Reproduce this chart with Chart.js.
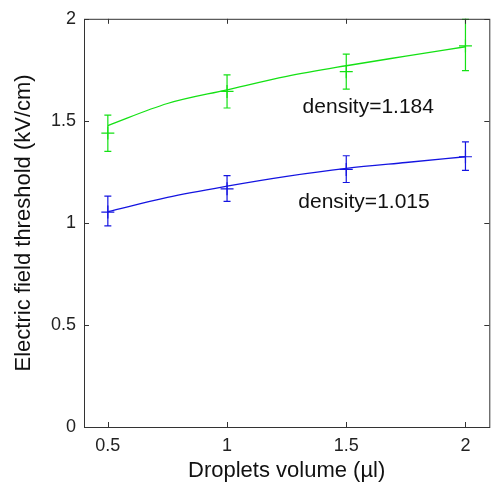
<!DOCTYPE html>
<html lang="en">
  <head>
    <meta charset="UTF-8" />
    <title>Electric field threshold</title>
    <script src="https://cdn.jsdelivr.net/npm/chart.js"></script>
    <style>
      html, body { margin: 0; padding: 0; background: #fff; overflow: hidden; }
      #wrap { width: 497px; height: 485px; }
    </style>
  </head>
  <body>
    <div id="wrap"><canvas id="myChart"></canvas></div>
    <script>
// volumes (µl)
const volumes = [0.5, 1, 1.5, 2];

// measured thresholds with error bars
const greenMean = [1.44, 1.644, 1.741, 1.867];
const greenLow  = [1.35, 1.563, 1.655, 1.746];
const greenHigh = [1.528, 1.725, 1.827, 1.997];

const blueMean = [1.053, 1.167, 1.262, 1.324];
const blueLow  = [0.985, 1.105, 1.198, 1.257];
const blueHigh = [1.131, 1.232, 1.329, 1.397];

// fitted curves
const fitX     = [0.5, 0.75, 1, 1.25, 1.5, 1.75, 2];
const greenFit = [1.477, 1.585, 1.652, 1.718, 1.77, 1.817, 1.863];
const blueFit  = [1.055, 1.125, 1.18, 1.228, 1.267, 1.296, 1.324];

// text labels
const labelText = ["density=1.184", "density=1.015"];
const labelX    = [1.317, 1.299];
const labelY    = [1.539, 1.074];

const xTicks = [0.5, 1, 1.5, 2];
const yTicks = [0, 0.5, 1, 1.5, 2];

const GREEN = "rgb(20,225,20)";
const BLUE  = "rgb(20,20,225)";
const FONT = "'Liberation Sans', Arial, sans-serif";

const toXY = (xs, ys) => xs.map((x, i) => ({ x: x, y: ys[i] }));

// error bars
const errorBars = {
  id: "errorBars",
  afterDatasetsDraw(chart) {
    const { ctx, scales: { x, y } } = chart;
    chart.data.datasets.forEach(ds => {
      if (!ds.errLow) return;
      ctx.save();
      ctx.strokeStyle = ds.borderColor;
      ctx.lineWidth = 1.2;
      ds.data.forEach((p, i) => {
        const px = x.getPixelForValue(p.x);
        const lo = y.getPixelForValue(ds.errLow[i]);
        const hi = y.getPixelForValue(ds.errHigh[i]);
        ctx.beginPath();
        ctx.moveTo(px, lo); ctx.lineTo(px, hi);
        ctx.moveTo(px - 3.5, lo); ctx.lineTo(px + 3.5, lo);
        ctx.moveTo(px - 3.5, hi); ctx.lineTo(px + 3.5, hi);
        ctx.stroke();
      });
      ctx.restore();
    });
  }
};

// box with inward ticks + text labels
const boxAndText = {
  id: "boxAndText",
  afterDraw(chart) {
    const { ctx, chartArea: a, scales: { x, y } } = chart;
    ctx.save();
    ctx.strokeStyle = "#333";
    ctx.lineWidth = 1;
    ctx.strokeRect(a.left + 0.5, a.top + 0.5, a.right - a.left, a.bottom - a.top);
    ctx.beginPath();
    xTicks.forEach(v => {
      const px = Math.round(x.getPixelForValue(v)) + 0.5;
      ctx.moveTo(px, a.bottom); ctx.lineTo(px, a.bottom - 5);
      ctx.moveTo(px, a.top); ctx.lineTo(px, a.top + 5);
    });
    yTicks.forEach(v => {
      const py = Math.round(y.getPixelForValue(v)) + 0.5;
      ctx.moveTo(a.left, py); ctx.lineTo(a.left + 5, py);
      ctx.moveTo(a.right, py); ctx.lineTo(a.right - 5, py);
    });
    ctx.stroke();

    ctx.fillStyle = "#111";
    ctx.font = "21px " + FONT;
    ctx.textAlign = "left";
    ctx.textBaseline = "alphabetic";
    labelText.forEach((t, i) => {
      ctx.fillText(t, x.getPixelForValue(labelX[i]), y.getPixelForValue(labelY[i]));
    });
    ctx.restore();
  }
};

const ctx = document.getElementById("myChart");
new Chart(ctx, {
  type: "scatter",
  data: {
    datasets: [
      {
        type: "line",
        data: toXY(fitX, greenFit),
        borderColor: GREEN,
        borderWidth: 1.3,
        pointRadius: 0,
        cubicInterpolationMode: "monotone"
      },
      {
        data: toXY(volumes, greenMean),
        errLow: greenLow,
        errHigh: greenHigh,
        borderColor: GREEN,
        backgroundColor: GREEN,
        pointStyle: "cross",
        pointRadius: 6.5,
        borderWidth: 1.2
      },
      {
        type: "line",
        data: toXY(fitX, blueFit),
        borderColor: BLUE,
        borderWidth: 1.3,
        pointRadius: 0,
        cubicInterpolationMode: "monotone"
      },
      {
        data: toXY(volumes, blueMean),
        errLow: blueLow,
        errHigh: blueHigh,
        borderColor: BLUE,
        backgroundColor: BLUE,
        pointStyle: "cross",
        pointRadius: 6.5,
        borderWidth: 1.2
      }
    ]
  },
  options: {
    responsive: true,
    maintainAspectRatio: false,
    animation: false,
    layout: { padding: { top: 15, right: 2, left: 0, bottom: 0 } },
    plugins: {
      legend: { display: false },
      tooltip: { enabled: false }
    },
    scales: {
      x: {
        type: "linear",
        min: 0.4,
        max: 2.1,
        afterBuildTicks: s => { s.ticks = xTicks.map(v => ({ value: v })); },
        afterFit: s => { s.height = 58; },
        grid: { display: false, drawTicks: false },
        border: { display: false },
        ticks: {
          color: "#222",
          padding: 8,
          callback: v => String(v),
          font: { family: FONT, size: 18 }
        },
        title: {
          display: true,
          text: "Droplets volume (µl)",
          color: "#111",
          padding: { top: 0, bottom: 1 },
          font: { family: FONT, size: 22 }
        }
      },
      y: {
        min: 0,
        max: 2,
        afterBuildTicks: s => { s.ticks = yTicks.map(v => ({ value: v })); },
        afterFit: s => { s.width = 84; },
        grid: { display: false, drawTicks: false },
        border: { display: false },
        ticks: {
          color: "#222",
          padding: 8,
          callback: v => String(v),
          font: { family: FONT, size: 18 }
        },
        title: {
          display: true,
          text: "Electric field threshold (kV/cm)",
          color: "#111",
          padding: { top: 11, bottom: 0 },
          font: { family: FONT, size: 22 }
        }
      }
    }
  },
  plugins: [errorBars, boxAndText]
});
    </script>
  </body>
</html>
